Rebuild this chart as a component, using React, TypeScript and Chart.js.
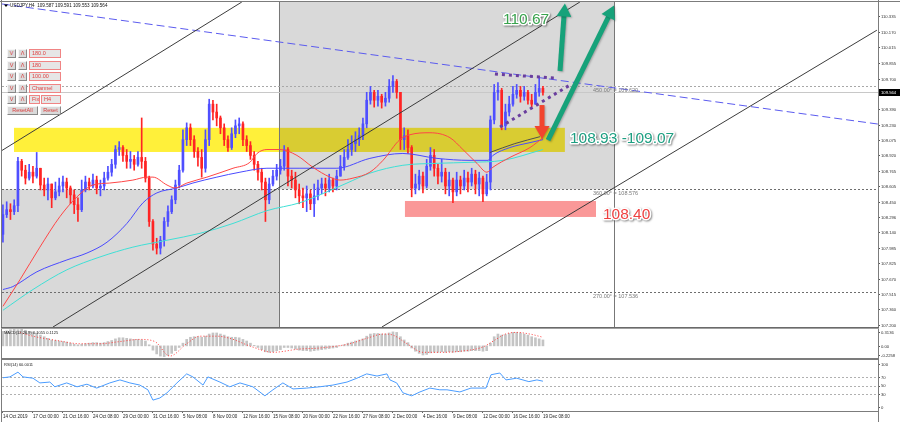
import React, { useEffect, useRef } from 'react';
import { Chart, registerables } from 'chart.js';

Chart.register(...registerables);

const FONT = '"Liberation Sans", Arial, sans-serif';

// ================= DATA =================
// Each candle spans two H4 slots on the time index axis.
const candleStep = 2;
const firstOpen = 108.12;
const closes = [
  108.32, 108.37, 108.35, 108.41, 108.86, 108.77, 108.69, 108.75, 108.71, 108.79,
  108.62, 108.57, 108.63, 108.49, 108.55, 108.61, 108.65, 108.59, 108.52, 108.42,
  108.37, 108.57, 108.65, 108.61, 108.67, 108.59, 108.61, 108.69, 108.75, 108.83,
  108.98, 109.00, 108.92, 108.86, 108.88, 108.83, 108.90, 108.86, 108.69, 108.25,
  108.02, 107.98, 108.06, 108.25, 108.35, 108.47, 108.62, 108.77, 109.08, 109.20,
  109.08, 108.96, 108.90, 108.79, 109.08, 109.44, 109.36, 109.30, 109.20, 109.08,
  109.00, 109.14, 109.22, 109.24, 109.08, 109.02, 108.92, 108.83, 108.75, 108.65,
  108.47, 108.63, 108.71, 108.77, 108.81, 108.98, 108.71, 108.67, 108.57, 108.51,
  108.49, 108.53, 108.43, 108.51, 108.59, 108.63, 108.59, 108.67, 108.61, 108.71,
  108.81, 108.90, 108.98, 109.04, 109.08, 109.12, 109.24, 109.48, 109.56, 109.48,
  109.52, 109.46, 109.50, 109.62, 109.67, 109.56, 109.08, 109.12, 109.00, 108.59,
  108.63, 108.71, 108.61, 108.81, 108.92, 108.79, 108.71, 108.75, 108.61, 108.67,
  108.55, 108.67, 108.61, 108.69, 108.65, 108.73, 108.63, 108.69, 108.53, 108.65,
  109.28, 109.56, 109.58, 109.22, 109.36, 109.44, 109.54, 109.58, 109.52, 109.56,
  109.48, 109.44, 109.56, 109.60, 109.56,
];
const highs = [
  108.42, 108.45, 108.43, 108.47, 108.90, 108.88, 108.82, 108.83, 108.81, 108.95,
  108.79, 108.69, 108.69, 108.63, 108.65, 108.69, 108.71, 108.69, 108.61, 108.57,
  108.49, 108.67, 108.71, 108.69, 108.73, 108.71, 108.67, 108.75, 108.81, 108.88,
  109.02, 109.06, 109.02, 108.98, 108.96, 108.92, 108.96, 109.30, 108.90, 108.71,
  108.27, 108.08, 108.10, 108.29, 108.41, 108.51, 108.67, 108.82, 109.18, 109.25,
  109.24, 109.12, 109.00, 108.98, 109.18, 109.49, 109.48, 109.44, 109.32, 109.24,
  109.12, 109.20, 109.28, 109.30, 109.26, 109.12, 109.06, 108.96, 108.86, 108.79,
  108.69, 108.69, 108.77, 108.83, 108.88, 109.02, 109.00, 108.77, 108.75, 108.63,
  108.59, 108.61, 108.57, 108.63, 108.67, 108.69, 108.69, 108.73, 108.69, 108.77,
  108.92, 108.98, 109.08, 109.12, 109.16, 109.20, 109.30, 109.56, 109.62, 109.58,
  109.58, 109.54, 109.56, 109.69, 109.73, 109.69, 109.56, 109.20, 109.18, 109.02,
  108.73, 108.77, 108.75, 108.88, 109.00, 108.98, 108.83, 108.88, 108.79, 108.75,
  108.69, 108.75, 108.71, 108.77, 108.75, 108.79, 108.77, 108.75, 108.71, 108.73,
  109.32, 109.64, 109.66, 109.60, 109.44, 109.52, 109.62, 109.64, 109.62, 109.62,
  109.58, 109.54, 109.64, 109.72, 109.62,
];
const lows = [
  108.04, 108.29, 108.27, 108.32, 108.35, 108.71, 108.63, 108.67, 108.64, 108.69,
  108.57, 108.51, 108.47, 108.39, 108.47, 108.51, 108.55, 108.49, 108.43, 108.33,
  108.25, 108.35, 108.55, 108.57, 108.59, 108.53, 108.51, 108.57, 108.67, 108.71,
  108.79, 108.92, 108.86, 108.79, 108.79, 108.77, 108.81, 108.79, 108.65, 108.20,
  107.96, 107.92, 107.92, 108.00, 108.20, 108.33, 108.43, 108.59, 108.75, 109.02,
  109.02, 108.90, 108.81, 108.70, 108.75, 109.02, 109.28, 109.22, 109.14, 109.02,
  108.96, 108.98, 109.10, 109.14, 109.02, 108.96, 108.88, 108.77, 108.67, 108.57,
  108.25, 108.43, 108.61, 108.67, 108.73, 108.77, 108.61, 108.59, 108.49, 108.43,
  108.39, 108.35, 108.37, 108.30, 108.47, 108.53, 108.51, 108.55, 108.55, 108.57,
  108.71, 108.77, 108.88, 108.92, 108.96, 109.02, 109.08, 109.20, 109.44, 109.41,
  109.42, 109.40, 109.42, 109.46, 109.56, 109.50, 108.98, 108.98, 108.94, 108.50,
  108.53, 108.57, 108.54, 108.59, 108.77, 108.71, 108.63, 108.65, 108.53, 108.51,
  108.44, 108.51, 108.53, 108.57, 108.55, 108.61, 108.53, 108.51, 108.45, 108.51,
  108.57, 109.24, 109.48, 109.18, 109.18, 109.32, 109.42, 109.50, 109.46, 109.48,
  109.44, 109.41, 109.44, 109.52, 109.53,
];

// Moving averages (time index, price)
const redMaIdx = [0, 9.1, 19.7, 30.4, 39.5, 48, 57, 69.3, 76.8, 80, 87.5, 91.7, 98.1, 108.8, 122.7, 131.7, 135.5, 140.8, 147.7, 156.8, 165.3, 174.4, 179.7, 186.7, 195.7, 202.7, 211.7, 217.1, 227.7, 238.4, 245.3, 252.8, 258.1, 261.3, 270.4, 281.1, 288];
const redMaVal = [107.39, 107.66, 107.99, 108.30, 108.50, 108.62, 108.64, 108.67, 108.70, 108.70, 108.62, 108.59, 108.64, 108.70, 108.79, 108.85, 108.94, 108.98, 108.98, 108.92, 108.80, 108.70, 108.67, 108.69, 108.75, 108.87, 109.08, 109.13, 109.15, 109.10, 108.98, 108.84, 108.75, 108.80, 108.90, 109.00, 109.10];
const blueMaIdx = [0, 5.3, 18.1, 34.1, 44.8, 55.5, 66.1, 74.7, 82.1, 92.8, 101.3, 114.1, 126.4, 140.8, 158.4, 178.1, 195.7, 213.3, 231.5, 249.1, 258.7, 261.3, 270.4, 281.1, 288];
const blueMaVal = [107.56, 107.59, 107.74, 107.86, 107.93, 108.04, 108.23, 108.44, 108.54, 108.59, 108.64, 108.70, 108.75, 108.79, 108.79, 108.79, 108.89, 108.94, 108.89, 108.87, 108.87, 108.92, 109.00, 109.05, 109.08];
const cyanMaIdx = [0, 16, 34.1, 51.7, 69.3, 87.5, 105.1, 122.7, 140.8, 158.4, 165.3, 183.5, 195.7, 213.3, 231.5, 249.1, 266.7, 288];
const cyanMaVal = [107.35, 107.56, 107.76, 107.89, 107.99, 108.06, 108.13, 108.23, 108.36, 108.44, 108.49, 108.64, 108.74, 108.82, 108.84, 108.85, 108.87, 108.98];
const greyMaIdx = [259.7, 273, 286.4];
const greyMaVal = [108.95, 109.04, 109.11];

// MACD(12,26,9): histogram per candle, signal line points
const macdHist = [
  0.27, 0.28, 0.30, 0.31, 0.30, 0.31, 0.29, 0.27, 0.26, 0.24,
  0.20, 0.17, 0.14, 0.11, 0.10, 0.09, 0.08, 0.07, 0.05, 0.03,
  0.02, 0.03, 0.04, 0.05, 0.06, 0.06, 0.05, 0.06, 0.08, 0.10,
  0.13, 0.15, 0.15, 0.14, 0.13, 0.12, 0.12, 0.11, 0.09, 0.02,
  -0.08, -0.15, -0.19, -0.20, -0.18, -0.14, -0.09, -0.03, 0.05, 0.12,
  0.16, 0.17, 0.17, 0.16, 0.18, 0.22, 0.24, 0.24, 0.22, 0.20,
  0.17, 0.16, 0.16, 0.15, 0.12, 0.09, 0.05, 0.01, -0.03, -0.07,
  -0.11, -0.12, -0.11, -0.09, -0.07, -0.03, -0.03, -0.04, -0.06, -0.08,
  -0.09, -0.09, -0.10, -0.09, -0.08, -0.07, -0.06, -0.05, -0.04, -0.03,
  0.00, 0.02, 0.05, 0.07, 0.09, 0.11, 0.13, 0.18, 0.22, 0.23,
  0.23, 0.22, 0.22, 0.24, 0.26, 0.25, 0.17, 0.11, 0.06, -0.04,
  -0.10, -0.14, -0.17, -0.16, -0.13, -0.12, -0.12, -0.11, -0.12, -0.11,
  -0.12, -0.11, -0.11, -0.10, -0.10, -0.09, -0.09, -0.09, -0.10, -0.09,
  0.05, 0.17, 0.22, 0.20, 0.21, 0.23, 0.25, 0.25, 0.24, 0.22,
  0.20, 0.17, 0.15, 0.13, 0.11,
];
const macdSignalIdx = [9, 16, 28.8, 41, 51.7, 62.4, 73, 81, 89, 98, 105, 114, 121, 133, 144, 158, 169, 185, 194, 203, 208, 215.5, 224, 233, 244, 256, 262, 268, 274, 281, 288];
const macdSignalVal = [0.25, 0.18, 0.10, 0.04, 0.04, 0.08, 0.12, 0.08, -0.19, 0.04, 0.18, 0.18, 0.14, -0.02, -0.12, -0.06, -0.04, 0.04, 0.14, 0.22, 0.20, 0.04, -0.12, -0.12, -0.10, -0.02, 0.10, 0.22, 0.25, 0.22, 0.16];

// RSI(14)
const rsiIdx = [0, 3.7, 8, 10.7, 16, 19.7, 25, 27.7, 34, 39.5, 44.8, 50, 57, 62.4, 67.7, 73, 77.3, 80, 83.7, 87.5, 92.8, 98, 101.3, 106.7, 109.3, 115.7, 121, 126.4, 133.3, 139.7, 144, 149.3, 154.7, 162, 169, 176, 183.5, 188.8, 194, 199.5, 204.8, 206.4, 210, 213.3, 218, 222.4, 227.7, 233, 236.8, 243.7, 249.6, 257.6, 260.3, 265, 268.3, 274, 280.5, 284.8, 288];
const rsiVal = [68, 70, 81, 70, 67, 56, 58, 47, 56, 47, 53, 44, 56, 63, 56, 51, 40, 16, 21, 33, 56, 77, 70, 51, 70, 58, 47, 56, 47, 26, 40, 56, 42, 44, 47, 51, 58, 67, 77, 72, 77, 63, 56, 33, 26, 35, 44, 40, 40, 35, 44, 44, 75, 79, 63, 67, 59, 63, 60];

// Axes
const timeTickIdx = [0, 16, 32, 48, 64, 80, 96, 112, 128, 144, 160, 176, 192, 208, 224, 240, 256, 272, 288];
const timeLabels = ['14 Oct 2019', '17 Oct 00:00', '21 Oct 16:00', '24 Oct 08:00', '29 Oct 00:00', '31 Oct 16:00', '5 Nov 08:00', '8 Nov 00:00', '12 Nov 16:00', '15 Nov 08:00', '20 Nov 00:00', '22 Nov 16:00', '27 Nov 08:00', '2 Dec 00:00', '4 Dec 16:00', '9 Dec 08:00', '12 Dec 00:00', '16 Dec 16:00', '19 Dec 08:00'];
const priceTicks = [110.335, 110.17, 110.015, 109.855, 109.7, 109.39, 109.23, 109.075, 108.92, 108.765, 108.605, 108.45, 108.296, 108.14, 107.985, 107.825, 107.67, 107.515, 107.36, 107.2];
const macdTicks = [0.3136, 0, -0.2258];
const macdTickText = ['0.3136', '0.00', '-0.2258'];
const rsiTicks = [100, 70, 50, 30, 0];
const rsiLevels = [70, 50, 30];

const lastPrice = 109.564;
const headerText = 'USDJPY,H4  109.587 109.591 109.553 109.564';
const macdTitle = 'MACD(12,26,9) 0.1055 0.1125';
const rsiTitle = 'RSI(14) 60.0011';

// Annotations (time index, price)
const X_MIN = -0.5;
const X_MAX = 466.7;
const P_MIN = 107.18;
const P_MAX = 110.476;
const gannTimeIdx = [147.2, 325.9];
const gannLevels = [109.62, 108.576, 107.536];
const gannLevelText = ['450.00° = 109.620', '360.00° = 108.576', '270.00° = 107.536'];
const gannLabelIdx = 314.7;
const yellowZone = [5.9, 299.7, 108.955, 109.2];
const redZone = [214.4, 316.3, 108.296, 108.458];
const trendLine = [[-0.5, 110.456], [466.7, 109.238]];
const channelLines = [
  [[-0.53, 108.97], [127.4, 110.476]],
  [[26.7, 107.18], [307.7, 110.476]],
  [[202.1, 107.18], [466.1, 110.19]],
];
const triangleUpper = [[262.4, 109.745], [294.9, 109.705]];
const triangleLower = [[265.1, 109.208], [302.4, 109.634]];
const greenArrows = [
  [[297.1, 109.776], [299.7, 110.46]],
  [[290.7, 109.076], [325.9, 110.44]],
];
const redArrow = [[287.5, 109.431], [287.5, 109.086]];
const targetUpText = '110.67';
const targetUpPos = [279, 110.3];
const zoneText = '108.93 -109.07';
const zoneTextPos = [302.4, 109.09];
const supportText = '108.40';
const supportTextPos = [320, 108.32];

const panelValues = ['180.0', '180', '100.00', 'Channel'];

// ================= DERIVED =================
const candleIdx = closes.map((_, k) => k * candleStep);
const opens = closes.map((_, k) => (k === 0 ? firstOpen : closes[k - 1]));
const BULL = '#4f4fff';
const BEAR = '#ff2424';
const candleColors = closes.map((c, k) => (c >= opens[k] ? BULL : BEAR));
const pts = (idx: number[], val: number[]) => idx.map((x, j) => ({ x, y: val[j] }));

// ================= DRAW HELPERS =================
function line(ctx: any, x1: number, y1: number, x2: number, y2: number) {
  ctx.beginPath();
  ctx.moveTo(x1, y1);
  ctx.lineTo(x2, y2);
  ctx.stroke();
}

function arrow(ctx: any, x1: number, y1: number, x2: number, y2: number, color: string, shaft: number, headW: number, headL: number) {
  const ang = Math.atan2(y2 - y1, x2 - x1);
  const bx = x2 - Math.cos(ang) * headL;
  const by = y2 - Math.sin(ang) * headL;
  ctx.save();
  ctx.strokeStyle = color;
  ctx.fillStyle = color;
  ctx.lineWidth = shaft;
  ctx.lineCap = 'butt';
  ctx.shadowColor = 'rgba(0,0,0,0.25)';
  ctx.shadowBlur = 2;
  ctx.shadowOffsetX = 1;
  ctx.shadowOffsetY = 1;
  line(ctx, x1, y1, bx + Math.cos(ang), by + Math.sin(ang));
  ctx.beginPath();
  ctx.moveTo(x2, y2);
  ctx.lineTo(bx + (Math.sin(ang) * headW) / 2, by - (Math.cos(ang) * headW) / 2);
  ctx.lineTo(bx - (Math.sin(ang) * headW) / 2, by + (Math.cos(ang) * headW) / 2);
  ctx.closePath();
  ctx.fill();
  ctx.restore();
}

function bigText(ctx: any, text: string, x: number, y: number, color: string, size: number, align: string) {
  ctx.save();
  ctx.font = `${size}px ${FONT}`;
  ctx.textAlign = align;
  ctx.textBaseline = 'middle';
  ctx.lineJoin = 'round';
  ctx.shadowColor = 'rgba(0,0,0,0.45)';
  ctx.shadowBlur = 2;
  ctx.shadowOffsetX = 1;
  ctx.shadowOffsetY = 1;
  ctx.strokeStyle = '#ffffff';
  ctx.lineWidth = 3;
  ctx.strokeText(text, x, y);
  ctx.shadowColor = 'transparent';
  ctx.fillStyle = color;
  ctx.fillText(text, x, y);
  ctx.restore();
}

function smallText(ctx: any, text: string, x: number, y: number, size: number, color: string, align = 'left', base = 'middle') {
  ctx.save();
  ctx.font = `${size}px ${FONT}`;
  ctx.fillStyle = color;
  ctx.textAlign = align;
  ctx.textBaseline = base;
  ctx.fillText(text, x, y);
  ctx.restore();
}

function frame(ctx: any, a: any, top: boolean, bottomY: number | null) {
  ctx.save();
  ctx.strokeStyle = '#7c7c7c';
  ctx.lineWidth = 1;
  line(ctx, 1.5, 0, 1.5, ctx.canvas.height);
  line(ctx, a.right + 0.5, 0, a.right + 0.5, ctx.canvas.height);
  if (top) line(ctx, 0, 1.5, 900, 1.5);
  if (bottomY !== null) line(ctx, 1, bottomY, a.right + 1, bottomY);
  ctx.restore();
}

// ================= PLUGINS =================
const mainOverlay = {
  id: 'mainOverlay',
  beforeDatasetsDraw(chart: any) {
    const { ctx, chartArea: a } = chart;
    const X = (v: number) => chart.scales.x.getPixelForValue(v);
    const Y = (v: number) => chart.scales.y.getPixelForValue(v);
    ctx.save();
    ctx.beginPath();
    ctx.rect(a.left, a.top, a.right - a.left, a.bottom - a.top);
    ctx.clip();
    // Gann boxes
    ctx.fillStyle = '#d9d9d9';
    ctx.fillRect(X(X_MIN), Y(gannLevels[1]), X(gannTimeIdx[0]) - X(X_MIN), Y(P_MIN) - Y(gannLevels[1]));
    ctx.fillRect(X(gannTimeIdx[0]), Y(P_MAX), X(gannTimeIdx[1]) - X(gannTimeIdx[0]), Y(gannLevels[1]) - Y(P_MAX));
    // yellow zone
    ctx.globalCompositeOperation = 'multiply';
    ctx.fillStyle = '#fff03a';
    ctx.fillRect(X(yellowZone[0]), Y(yellowZone[3]), X(yellowZone[1]) - X(yellowZone[0]), Y(yellowZone[2]) - Y(yellowZone[3]));
    ctx.globalCompositeOperation = 'source-over';
    // red zone
    ctx.fillStyle = '#fa9898';
    ctx.fillRect(X(redZone[0]), Y(redZone[3]), X(redZone[1]) - X(redZone[0]), Y(redZone[2]) - Y(redZone[3]));
    // gann verticals
    ctx.strokeStyle = '#777';
    ctx.lineWidth = 1;
    gannTimeIdx.forEach((t) => {
      const x = Math.round(X(t)) + 0.5;
      line(ctx, x, a.top, x, a.bottom);
    });
    // gann levels
    ctx.setLineDash([2, 2]);
    gannLevels.forEach((p, j) => {
      ctx.strokeStyle = j === 0 ? '#a8a8a8' : '#6e6e6e';
      const y = Math.round(Y(p)) + 0.5;
      line(ctx, a.left, y, a.right, y);
    });
    ctx.setLineDash([]);
    // current price line
    ctx.strokeStyle = '#c8c8c8';
    const yp = Math.round(Y(lastPrice)) + 0.5;
    line(ctx, a.left, yp, a.right, yp);
    ctx.restore();
  },
  afterDatasetsDraw(chart: any) {
    const { ctx, chartArea: a } = chart;
    const X = (v: number) => chart.scales.x.getPixelForValue(v);
    const Y = (v: number) => chart.scales.y.getPixelForValue(v);
    ctx.save();
    ctx.beginPath();
    ctx.rect(a.left, a.top, a.right - a.left, a.bottom - a.top);
    ctx.clip();
    // trend line
    ctx.strokeStyle = '#5b5bef';
    ctx.lineWidth = 1;
    ctx.setLineDash([8, 4]);
    line(ctx, X(trendLine[0][0]), Y(trendLine[0][1]), X(trendLine[1][0]), Y(trendLine[1][1]));
    ctx.setLineDash([]);
    // channel
    ctx.strokeStyle = '#3c3c3c';
    channelLines.forEach((l) => line(ctx, X(l[0][0]), Y(l[0][1]), X(l[1][0]), Y(l[1][1])));
    // triangle (dotted purple)
    ctx.strokeStyle = '#6a3e9e';
    ctx.lineWidth = 3;
    ctx.setLineDash([3, 4]);
    [triangleUpper, triangleLower].forEach((l) => line(ctx, X(l[0][0]), Y(l[0][1]), X(l[1][0]), Y(l[1][1])));
    ctx.setLineDash([]);
    ctx.restore();

    // arrows
    greenArrows.forEach((g) => arrow(ctx, X(g[0][0]), Y(g[0][1]), X(g[1][0]), Y(g[1][1]), '#17a27a', 5, 15, 13));
    arrow(ctx, X(redArrow[0][0]), Y(redArrow[0][1]), X(redArrow[1][0]), Y(redArrow[1][1]), '#f2452e', 5, 15, 13);

    // texts
    bigText(ctx, targetUpText, X(targetUpPos[0]), Y(targetUpPos[1]), '#3aa34e', 15.5, 'center');
    bigText(ctx, zoneText, X(zoneTextPos[0]), Y(zoneTextPos[1]), '#1d9f82', 15.5, 'left');
    bigText(ctx, supportText, X(supportTextPos[0]), Y(supportTextPos[1]), '#ef4242', 15.5, 'left');

    // gann labels
    gannLevels.forEach((p, j) => smallText(ctx, gannLevelText[j], X(gannLabelIdx), Y(p) + 1.5, 5.5, '#7a7a7a', 'left', 'top'));
  },
  afterDraw(chart: any) {
    const { ctx, chartArea: a } = chart;
    const Y = (v: number) => chart.scales.y.getPixelForValue(v);
    // header
    ctx.save();
    ctx.fillStyle = '#000';
    ctx.beginPath();
    ctx.moveTo(4, 4.5);
    ctx.lineTo(8, 4.5);
    ctx.lineTo(6, 7);
    ctx.closePath();
    ctx.fill();
    ctx.restore();
    smallText(ctx, headerText, 10, 6, 4.6, '#111');
    // price axis
    ctx.save();
    ctx.fillStyle = '#555';
    priceTicks.forEach((v) => {
      const y = Math.round(Y(v));
      ctx.fillRect(a.right, y, 2, 1);
      smallText(ctx, v.toFixed(3), a.right + 3, y + 0.5, 4.2, '#333');
    });
    const yp = Math.round(Y(lastPrice));
    ctx.fillStyle = '#000';
    ctx.fillRect(a.right + 1, yp - 3, 21, 7);
    ctx.restore();
    smallText(ctx, lastPrice.toFixed(3), a.right + 3, yp + 0.5, 4.2, '#fff');
    frame(ctx, a, true, null);
    ctx.save();
    ctx.strokeStyle = '#6a6a6a';
    line(ctx, 1, a.bottom + 0.5, a.right + 1, a.bottom + 0.5);
    ctx.strokeStyle = '#a0a0a0';
    line(ctx, 1, a.bottom + 1.5, a.right + 1, a.bottom + 1.5);
    ctx.restore();
  },
};

const macdOverlay = {
  id: 'macdOverlay',
  afterDraw(chart: any) {
    const { ctx, chartArea: a } = chart;
    const Y = (v: number) => chart.scales.y.getPixelForValue(v);
    smallText(ctx, macdTitle, 4, a.top + 4, 4, '#222');
    macdTicks.forEach((v, j) => {
      const y = Math.min(Math.max(Y(v), a.top + 3), a.bottom - 3);
      ctx.save();
      ctx.fillStyle = '#555';
      ctx.fillRect(a.right, Math.round(y), 2, 1);
      ctx.restore();
      smallText(ctx, macdTickText[j], a.right + 3, y + 0.5, 4.2, '#333');
    });
    frame(ctx, a, false, a.bottom + 0.5);
  },
};

const rsiOverlay = {
  id: 'rsiOverlay',
  beforeDatasetsDraw(chart: any) {
    const { ctx, chartArea: a } = chart;
    const Y = (v: number) => chart.scales.y.getPixelForValue(v);
    ctx.save();
    ctx.strokeStyle = '#b0b0b0';
    ctx.lineWidth = 1;
    ctx.setLineDash([2, 2]);
    rsiLevels.forEach((v) => {
      const y = Math.round(Y(v)) + 0.5;
      line(ctx, a.left, y, a.right, y);
    });
    ctx.restore();
  },
  afterDraw(chart: any) {
    const { ctx, chartArea: a } = chart;
    const Y = (v: number) => chart.scales.y.getPixelForValue(v);
    smallText(ctx, rsiTitle, 4, a.top + 5, 4, '#222');
    rsiTicks.forEach((v) => {
      const y = Y(v);
      ctx.save();
      ctx.fillStyle = '#555';
      ctx.fillRect(a.right, Math.round(y), 2, 1);
      ctx.restore();
      smallText(ctx, String(v), a.right + 3, y + 0.5, 4.2, '#333');
    });
    frame(ctx, a, false, a.bottom + 0.5);
    ctx.save();
    ctx.strokeStyle = '#7c7c7c';
    line(ctx, 1, 0.5, a.right + 1, 0.5);
    ctx.restore();
  },
};

// ================= CONFIGS =================
const hiddenX = {
  type: 'linear',
  min: X_MIN,
  max: X_MAX,
  offset: false,
  display: false,
};

const rightY = (min: number, max: number) => ({
  type: 'linear',
  position: 'right',
  min,
  max,
  beginAtZero: false,
  grid: { display: false },
  border: { display: false },
  ticks: { display: false },
  afterFit: (s: any) => {
    s.width = 22;
  },
});

const baseOptions = (padding: any) => ({
  responsive: false,
  animation: false,
  devicePixelRatio: 1,
  events: [],
  layout: { padding },
  plugins: { legend: { display: false }, tooltip: { enabled: false } },
});

function mainConfig(): any {
  return {
    type: 'bar',
    data: {
      datasets: [
        { type: 'line', data: pts(redMaIdx, redMaVal), borderColor: '#ff4646', borderWidth: 1, pointRadius: 0, cubicInterpolationMode: 'monotone', order: 1 },
        { type: 'line', data: pts(blueMaIdx, blueMaVal), borderColor: '#4a4aff', borderWidth: 1, pointRadius: 0, cubicInterpolationMode: 'monotone', order: 1 },
        { type: 'line', data: pts(cyanMaIdx, cyanMaVal), borderColor: '#3fe0d6', borderWidth: 1, pointRadius: 0, cubicInterpolationMode: 'monotone', order: 1 },
        { type: 'line', data: pts(greyMaIdx, greyMaVal), borderColor: '#505050', borderWidth: 1, pointRadius: 0, cubicInterpolationMode: 'monotone', order: 1 },
        {
          type: 'bar',
          data: candleIdx.map((x, k) => ({ x, y: [opens[k], closes[k]] })),
          backgroundColor: candleColors,
          barThickness: 2,
          grouped: false,
          minBarLength: 1,
          borderWidth: 0,
          order: 2,
        },
        {
          type: 'bar',
          data: candleIdx.map((x, k) => ({ x, y: [lows[k], highs[k]] })),
          backgroundColor: candleColors,
          barThickness: 1,
          grouped: false,
          borderWidth: 0,
          order: 3,
        },
      ],
    },
    options: {
      ...baseOptions({ left: 2, right: 0, top: 2, bottom: 2 }),
      scales: { x: hiddenX, y: rightY(P_MIN, P_MAX) },
    },
    plugins: [mainOverlay],
  };
}

function macdConfig(): any {
  return {
    type: 'bar',
    data: {
      datasets: [
        { type: 'line', data: pts(macdSignalIdx, macdSignalVal), borderColor: '#ff3a3a', borderWidth: 1, borderDash: [1, 2], pointRadius: 0, cubicInterpolationMode: 'monotone', order: 1 },
        {
          type: 'bar',
          data: candleIdx.map((x, k) => ({ x, y: macdHist[k] })),
          backgroundColor: '#c4c4c4',
          barThickness: 2,
          grouped: false,
          borderWidth: 0,
          order: 2,
        },
      ],
    },
    options: {
      ...baseOptions({ left: 2, right: 0, top: 0, bottom: 1 }),
      scales: { x: hiddenX, y: rightY(-0.2258, 0.3136) },
    },
    plugins: [macdOverlay],
  };
}

function rsiConfig(): any {
  return {
    type: 'line',
    data: {
      datasets: [
        { data: pts(rsiIdx, rsiVal), borderColor: '#4a9cff', borderWidth: 1, pointRadius: 0, tension: 0 },
      ],
    },
    options: {
      ...baseOptions({ left: 2, right: 0, top: 1, bottom: 0 }),
      scales: {
        x: {
          type: 'linear',
          min: X_MIN,
          max: X_MAX,
          offset: false,
          position: 'bottom',
          grid: { display: true, drawOnChartArea: false, drawTicks: true, tickLength: 2, color: '#666' },
          border: { display: false },
          ticks: {
            autoSkip: false,
            maxRotation: 0,
            minRotation: 0,
            align: 'start',
            padding: 1,
            color: '#222',
            font: { size: 4.5, family: FONT },
            callback: (_v: any, i: number) => timeLabels[i] ?? '',
          },
          afterBuildTicks: (s: any) => {
            s.ticks = timeTickIdx.map((value) => ({ value }));
          },
          afterFit: (s: any) => {
            s.height = 11;
          },
        },
        y: rightY(-9.3, 109.3),
      },
    },
    plugins: [rsiOverlay],
  };
}

// ================= COMPONENT =================
const btnStyle = (left: number, top: number, width: number): any => ({
  position: 'absolute',
  left,
  top,
  width,
  height: 9,
  boxSizing: 'border-box',
  background: '#dadada',
  borderStyle: 'solid',
  borderWidth: 1,
  borderColor: '#f6f6f6 #888 #888 #f6f6f6',
  color: '#d93c3c',
  font: `5.5px ${FONT}`,
  lineHeight: '7px',
  textAlign: 'center',
  overflow: 'hidden',
  whiteSpace: 'nowrap',
});

const boxStyle = (left: number, top: number, width: number): any => ({
  ...btnStyle(left, top, width),
  background: '#e6e6e6',
  border: '1px solid #f08484',
  color: '#e04343',
  textAlign: 'left',
  paddingLeft: 2,
});

export default function App() {
  const mainRef = useRef<HTMLCanvasElement>(null);
  const macdRef = useRef<HTMLCanvasElement>(null);
  const rsiRef = useRef<HTMLCanvasElement>(null);

  useEffect(() => {
    Chart.defaults.font.family = FONT;
    const charts = [
      new Chart(mainRef.current as HTMLCanvasElement, mainConfig()),
      new Chart(macdRef.current as HTMLCanvasElement, macdConfig()),
      new Chart(rsiRef.current as HTMLCanvasElement, rsiConfig()),
    ];
    return () => charts.forEach((c) => c.destroy());
  }, []);

  const rowTops = [49, 61, 72, 84, 95, 106];

  return (
    <div style={{ position: 'absolute', left: 0, top: 0, width: 900, height: 422, background: '#fff', overflow: 'hidden' }}>
      <canvas ref={mainRef} width={900} height={329} style={{ position: 'absolute', left: 0, top: 0, width: 900, height: 329 }} />
      <canvas ref={macdRef} width={900} height={30} style={{ position: 'absolute', left: 0, top: 329, width: 900, height: 30 }} />
      <canvas ref={rsiRef} width={900} height={63} style={{ position: 'absolute', left: 0, top: 359, width: 900, height: 63 }} />
      {panelValues.map((v, r) => (
        <React.Fragment key={v}>
          <div style={btnStyle(7, rowTops[r], 9)}>V</div>
          <div style={btnStyle(18, rowTops[r], 9)}>Λ</div>
          <div style={boxStyle(29, rowTops[r], 32)}>{v}</div>
        </React.Fragment>
      ))}
      <div style={btnStyle(7, rowTops[4], 9)}>V</div>
      <div style={btnStyle(18, rowTops[4], 9)}>Λ</div>
      <div style={boxStyle(29, rowTops[4], 11)}>Fix</div>
      <div style={boxStyle(41, rowTops[4], 20)}>H4</div>
      <div style={btnStyle(7, rowTops[5], 31)}>ResetAll</div>
      <div style={btnStyle(40, rowTops[5], 21)}>Reset</div>
    </div>
  );
}
